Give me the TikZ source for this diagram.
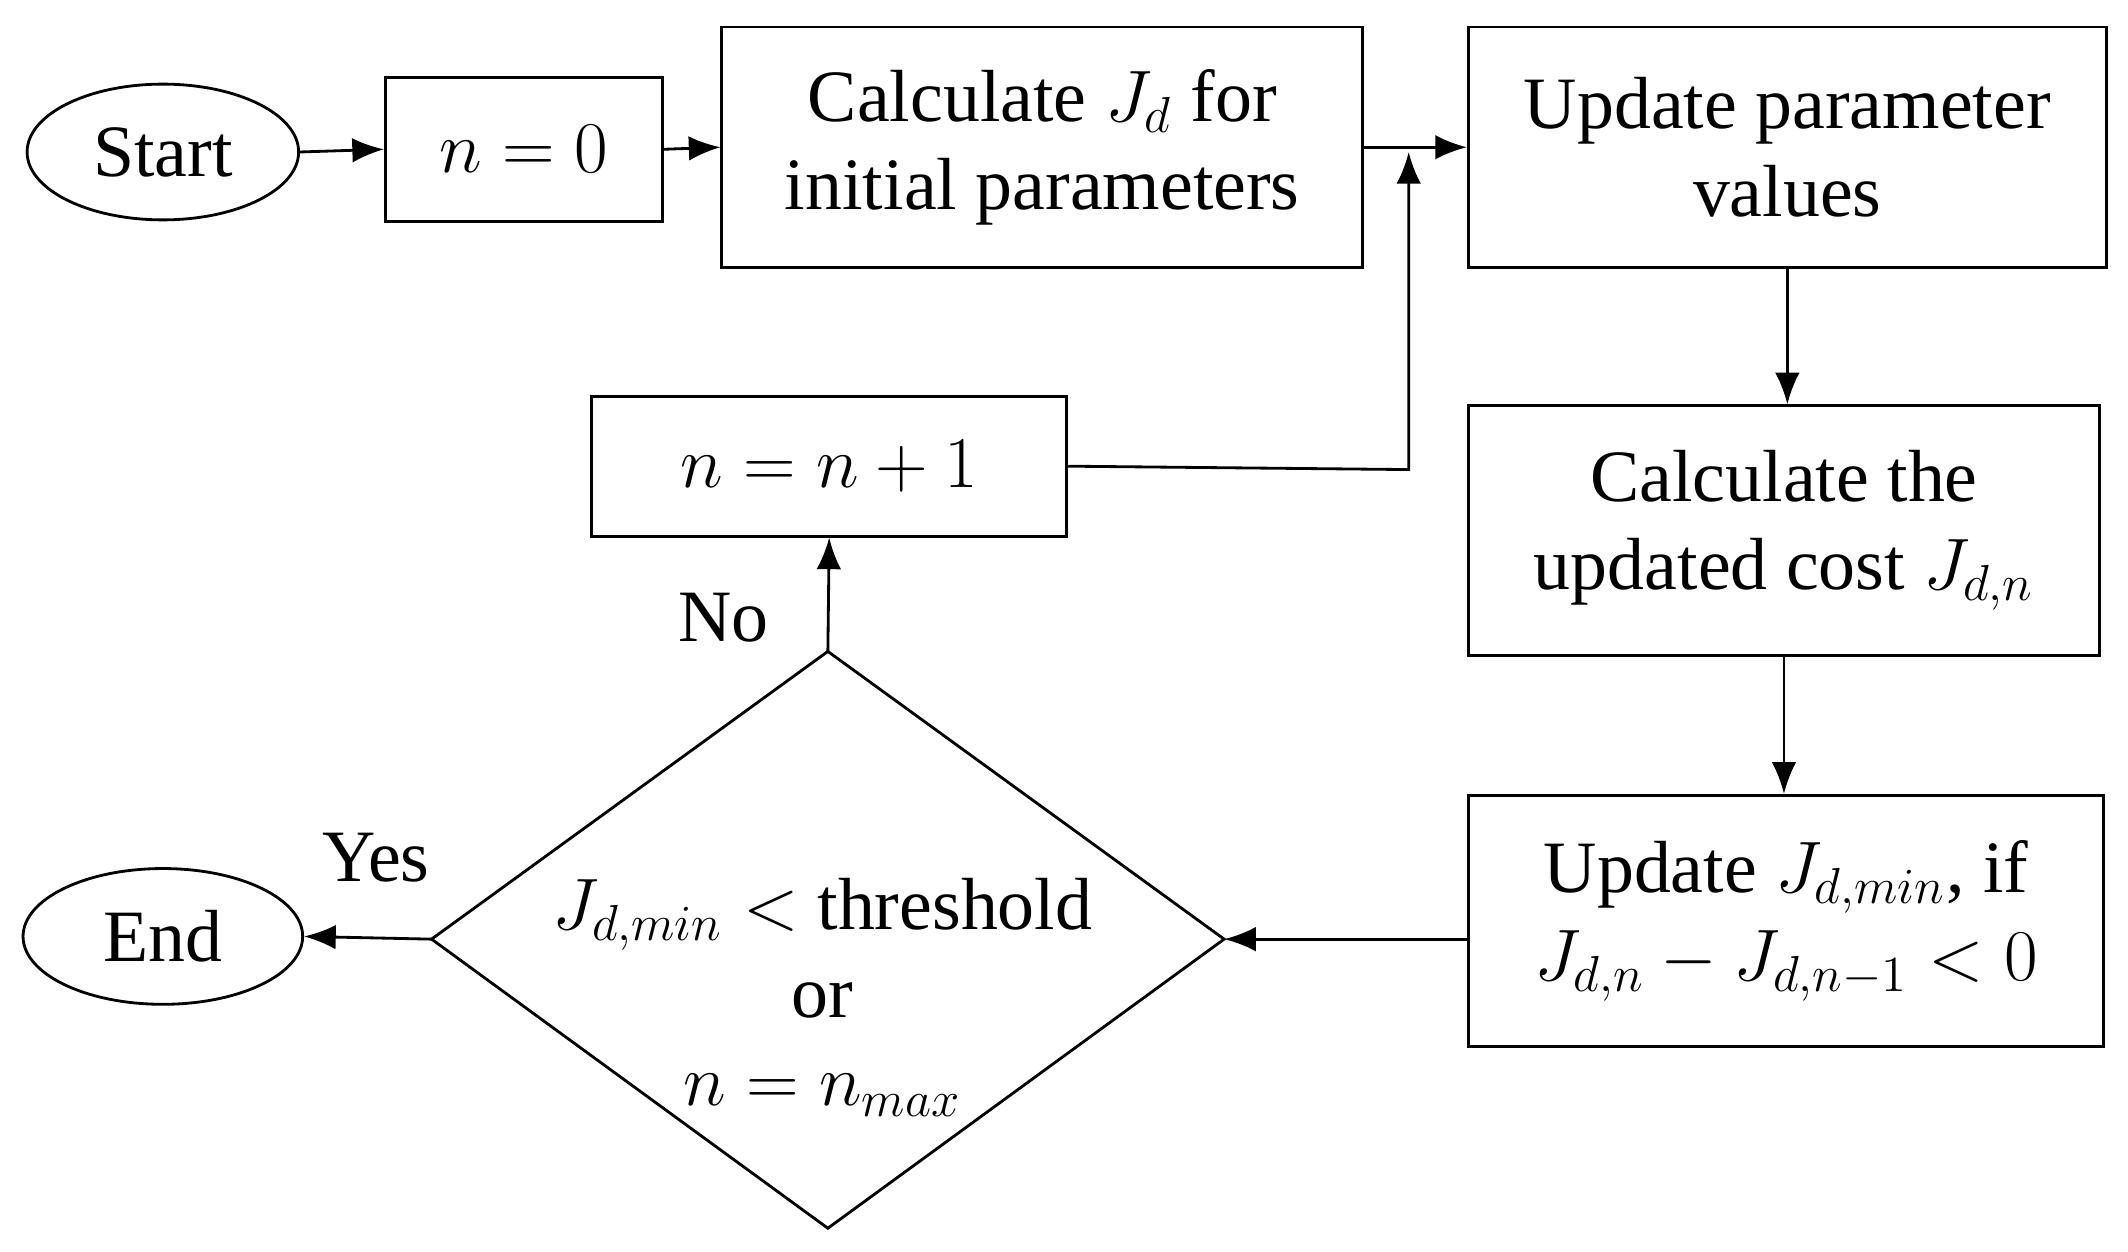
\documentclass[tikz,border=0pt]{standalone}
\usepackage{fontspec}
\setmainfont{Liberation Serif}
\usetikzlibrary{shapes.geometric,arrows.meta}
\begin{document}
\begin{tikzpicture}[x=0.01357cm,y=-0.01357cm,
  every node/.style={font=\fontsize{21}{25}\selectfont},
  box/.style={draw,line width=0.8pt,rectangle,align=center,inner sep=0pt},
  oval/.style={draw,line width=0.8pt,ellipse,inner sep=0pt},
  ln/.style={line width=0.8pt,-{Latex[length=9pt,width=7pt]}}]
\useasboundingbox (0,0) rectangle (1568,922);
\node[oval,minimum width=2.714cm,minimum height=1.357cm] (st) at (120,112) {Start};
\node[box,minimum width=2.768cm,minimum height=1.438cm] (n0) at (386,110) {$n=0$};
\node[box,minimum width=6.405cm,minimum height=2.402cm] (cj) at (768,108.5) {Calculate $J_d$ for\\initial parameters};
\node[box,minimum width=6.378cm,minimum height=2.402cm] (up) at (1317,108.5) {Update parameter\\values};
\node[box,minimum width=6.31cm,minimum height=2.497cm] (cc) at (1314.5,391) {Calculate the\\updated cost $J_{d,n}$};
\node[box,minimum width=6.351cm,minimum height=2.51cm] (um) at (1316,678.5) {Update $J_{d,min}$, if\\$J_{d,n}-J_{d,n-1}<0$};
\node[box,minimum width=4.75cm,minimum height=1.398cm] (inc) at (611,343.5) {$n=n+1$};
\coordinate (dT) at (610,480); \coordinate (dB) at (610,905);
\coordinate (dL) at (318,692); \coordinate (dR) at (902,692);
\draw[line width=0.8pt] (dT) -- (dR) -- (dB) -- (dL) -- cycle;
\node[align=center] (dtx) at (606,735) {$J_{d,min}<$ threshold\\or\\$n=n_{max}$};
\node[oval,minimum width=2.795cm,minimum height=1.357cm] (end) at (120,690) {End};
\coordinate (j) at (1038,346);
\coordinate (jt) at (1038,112);
\draw[ln] (st.east) -- (n0.west);
\draw[ln] (n0.east) -- (cj.west);
\draw[ln] (cj.east) -- (up.west);
\draw[ln] (inc.east) -- (j) -- (jt);
\draw[ln] (up.south) -- (up.south |- cc.north);
\draw[ln] (cc.south) -- (cc.south |- um.north);
\draw[ln] (um.west |- dR) -- (dR);
\draw[ln] (dT) -- (inc.south);
\draw[ln] (dL) -- (end.east);
\node (no) at (533,455) {No};
\node (yes) at (277,632) {Yes};
\end{tikzpicture}
\end{document}
